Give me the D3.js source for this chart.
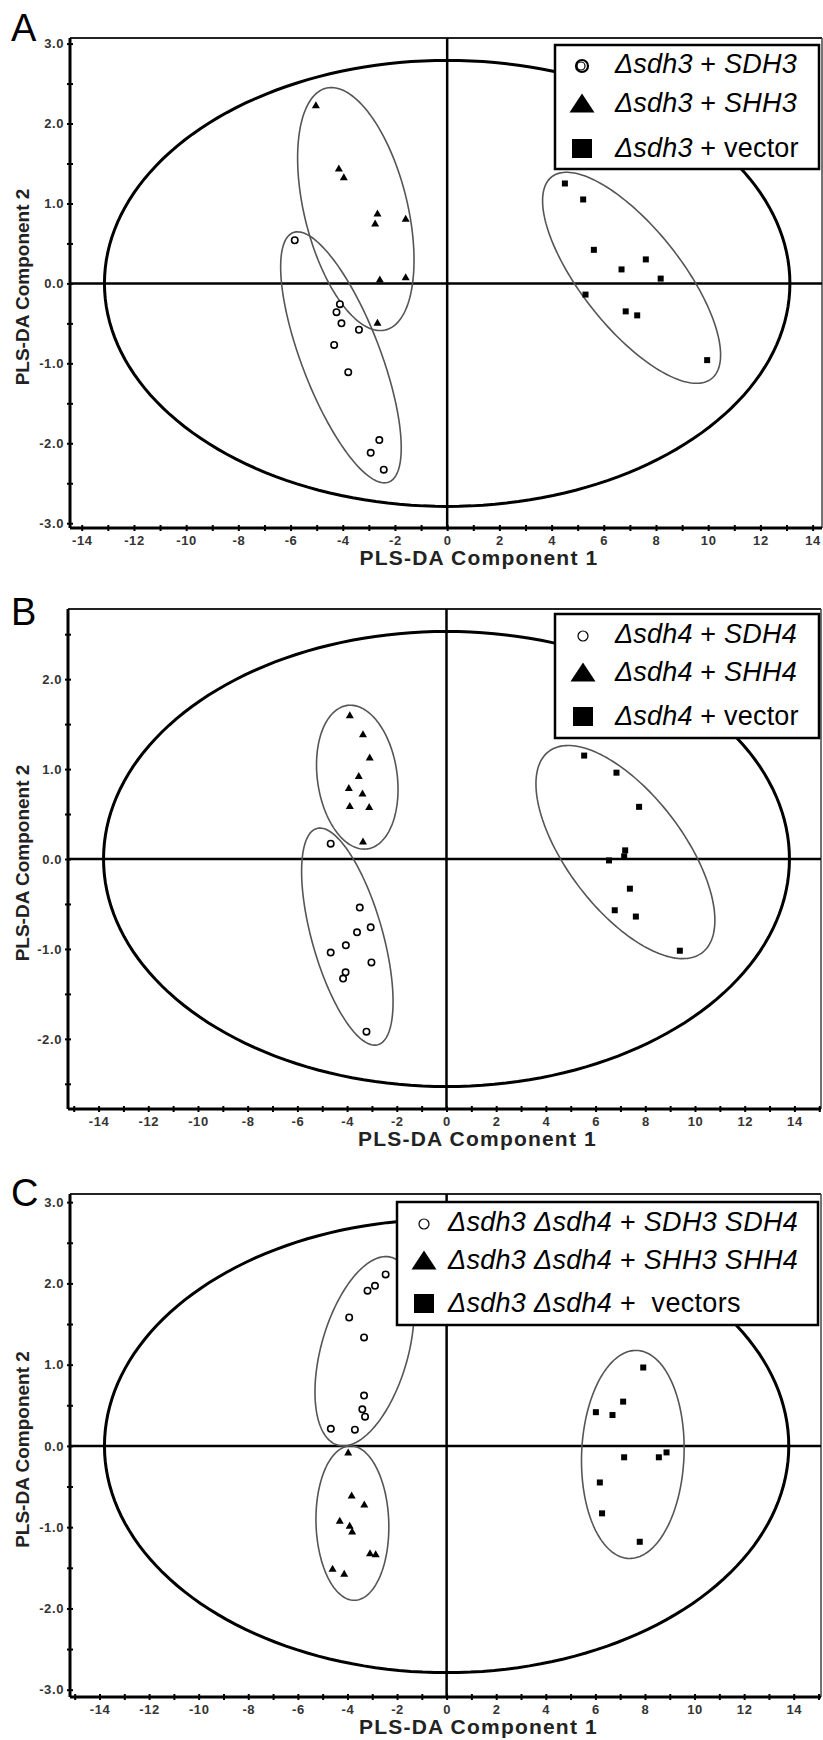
<!DOCTYPE html>
<html>
<head>
<meta charset="utf-8">
<script src="https://cdn.jsdelivr.net/npm/d3@7"></script>
<style>
  body { margin: 0; background: #fff; }
  text { font-family: "Liberation Sans", Arial, sans-serif; }
</style>
</head>
<body>
<div id="chart"></div>
<script>
// points, [component 1, component 2]
var aSDH3 = [[-5.84,0.54],[-4.11,-0.26],[-4.24,-0.36],[-4.05,-0.50],[-3.38,-0.58],[-4.33,-0.77],[-3.79,-1.11],[-2.60,-1.96],[-2.93,-2.12],[-2.43,-2.33]];
var aSHH3 = [[-5.03,2.23],[-4.15,1.44],[-3.96,1.33],[-2.67,0.875],[-2.76,0.75],[-1.59,0.81],[-2.58,0.05],[-1.59,0.08],[-2.67,-0.49]];
var aVector = [[4.51,1.25],[5.21,1.05],[5.62,0.42],[6.68,0.175],[7.61,0.30],[8.18,0.06],[5.30,-0.14],[6.84,-0.35],[7.28,-0.40],[9.96,-0.96]];

var bSDH4 = [[-4.66,0.17],[-3.49,-0.54],[-3.05,-0.76],[-3.60,-0.815],[-4.05,-0.96],[-4.66,-1.04],[-3.02,-1.15],[-4.06,-1.26],[-4.16,-1.33],[-3.22,-1.92]];
var bSHH4 = [[-3.89,1.60],[-3.36,1.39],[-3.09,1.13],[-3.53,0.925],[-3.93,0.79],[-3.38,0.73],[-3.89,0.59],[-3.11,0.58],[-3.36,0.195]];
var bVector = [[5.54,1.15],[6.84,0.96],[7.75,0.58],[7.19,0.096],[7.15,0.03],[6.54,-0.016],[7.38,-0.33],[6.77,-0.57],[7.62,-0.64],[9.39,-1.02]];

var cSDH = [[-2.46,2.11],[-2.89,1.97],[-3.19,1.91],[-3.93,1.58],[-3.33,1.335],[-3.33,0.62],[-3.40,0.45],[-3.29,0.36],[-4.67,0.21],[-3.70,0.20]];
var cSHH = [[-3.97,-0.08],[-3.83,-0.61],[-3.32,-0.72],[-4.31,-0.92],[-3.91,-0.98],[-3.81,-1.05],[-3.09,-1.32],[-2.86,-1.33],[-4.60,-1.51],[-4.13,-1.57]];
var cVector = [[7.93,0.965],[7.12,0.545],[6.02,0.415],[6.69,0.38],[7.16,-0.14],[8.56,-0.14],[8.87,-0.08],[6.18,-0.45],[6.27,-0.83],[7.79,-1.18]];

// ellipses: [centre x, centre y, half width, half height, correlation]
var aEllipses = [[0,0,13.13,2.79,0],[-4.07,-0.925,2.31,1.57,-0.72],[-3.5,0.93,2.23,1.52,-0.42],[7.065,0.07,3.41,1.32,-0.73]];
var bEllipses = [[0,0,13.8,2.53,0],[-3.99,-0.863,1.84,1.207,-0.60],[-3.59,0.91,1.64,0.80,-0.17],[7.2,0.077,3.6,1.185,-0.64]];
var cEllipses = [[0,0,13.8,2.79,0],[-3.31,1.165,2.0,1.165,0.43],[-3.8,-0.95,1.47,0.95,-0.05],[7.51,-0.105,2.07,1.28,0.06]];

// legend labels, [text, italic]
var aLegend = [[["Δsdh3",1],[" + ",0],["SDH3",1]], [["Δsdh3",1],[" + ",0],["SHH3",1]], [["Δsdh3",1],[" + vector",0]]];
var bLegend = [[["Δsdh4",1],[" + ",0],["SDH4",1]], [["Δsdh4",1],[" + ",0],["SHH4",1]], [["Δsdh4",1],[" + vector",0]]];
var cLegend = [[["Δsdh3 Δsdh4",1],[" + ",0],["SDH3 SDH4",1]], [["Δsdh3 Δsdh4",1],[" + ",0],["SHH3 SHH4",1]], [["Δsdh3 Δsdh4",1],[" +  vectors",0]]];

var aXTicks = d3.range(-14, 15, 1), bXTicks = d3.range(-15, 16, 1), cXTicks = d3.range(-15, 16, 1);
var aYTicks = d3.range(-3, 3.01, 0.5), bYTicks = d3.range(-2.5, 2.51, 0.5), cYTicks = d3.range(-3, 3.01, 0.5);

var width = 823, height = 1740;

var svg = d3.select("#chart").append("svg")
    .attr("width", width)
    .attr("height", height)
    .style("display", "block");

var panels = [
  {label: "A", labelY: 41, box: [70, 822, 38, 528], xDom: [-14.45, 14.36], yDom: [-3.06, 3.07],
   xTicks: aXTicks, yTicks: aYTicks, groups: [aSDH3, aSHH3, aVector], ellipses: aEllipses,
   legend: aLegend, leg: {x: 555, y: 45, w: 264, h: 124, sx: 27, tx: 60, rows: [28, 67, 112], fs: 27, ls: 0.2}, ring: true},
  {label: "B", labelY: 625, box: [68, 821, 609, 1109], xDom: [-15.23, 15.07], yDom: [-2.78, 2.78],
   xTicks: bXTicks, yTicks: bYTicks, groups: [bSDH4, bSHH4, bVector], ellipses: bEllipses,
   legend: bLegend, leg: {x: 555, y: 614, w: 264, h: 124, sx: 28, tx: 60, rows: [29, 67, 111], fs: 27, ls: 0.2}},
  {label: "C", labelY: 1206, box: [70, 821, 1194, 1697], xDom: [-15.19, 15.1], yDom: [-3.09, 3.1],
   xTicks: cXTicks, yTicks: cYTicks, groups: [cSDH, cSHH, cVector], ellipses: cEllipses,
   legend: cLegend, leg: {x: 397, y: 1202, w: 421, h: 123, sx: 27, tx: 51, rows: [29, 67, 110], fs: 27, ls: 0.3}}
];

function tri(w, h) {
  return "M0," + (-h * 0.55) + "L" + (w / 2) + "," + (h * 0.45) + "L" + (-w / 2) + "," + (h * 0.45) + "Z";
}

panels.forEach(function(p) {
  var g = svg.append("g");
  var x = d3.scaleLinear().domain(p.xDom).range([p.box[0], p.box[1]]);
  var y = d3.scaleLinear().domain(p.yDom).range([p.box[3], p.box[2]]);

  // frame
  g.append("line").attr("x1", p.box[0]).attr("x2", p.box[1]).attr("y1", p.box[2]).attr("y2", p.box[2])
      .style("stroke", "#222").style("stroke-width", 2);
  g.append("line").attr("x1", p.box[1]).attr("x2", p.box[1]).attr("y1", p.box[2]).attr("y2", p.box[3])
      .style("stroke", "#444").style("stroke-width", 1.5);

  // zero lines
  g.append("line").attr("x1", p.box[0]).attr("x2", p.box[1]).attr("y1", y(0)).attr("y2", y(0))
      .style("stroke", "#000").style("stroke-width", 2.5);
  g.append("line").attr("x1", x(0)).attr("x2", x(0)).attr("y1", p.box[2]).attr("y2", p.box[3])
      .style("stroke", "#000").style("stroke-width", 2.5);

  // ellipses
  var line = d3.line().curve(d3.curveLinearClosed);
  p.ellipses.forEach(function(e, i) {
    var phi = Math.asin(e[4]);
    var pts = d3.range(0, 2 * Math.PI, Math.PI / 90).map(function(t) {
      return [x(e[0] + e[2] * Math.cos(t)), y(e[1] + e[3] * Math.sin(t + phi))];
    });
    g.append("path").attr("d", line(pts))
        .style("fill", "none")
        .style("stroke", i === 0 ? "#000" : "#555")
        .style("stroke-width", i === 0 ? 3 : 1.6);
  });

  // points
  g.selectAll(".c").data(p.groups[0]).enter().append("circle")
      .attr("cx", function(d) { return x(d[0]); })
      .attr("cy", function(d) { return y(d[1]); })
      .attr("r", 3.2)
      .style("fill", "#fff").style("stroke", "#000").style("stroke-width", 1.6);
  g.selectAll(".t").data(p.groups[1]).enter().append("path")
      .attr("d", tri(8, 7))
      .attr("transform", function(d) { return "translate(" + x(d[0]) + "," + y(d[1]) + ")"; })
      .style("fill", "#000");
  g.selectAll(".s").data(p.groups[2]).enter().append("rect")
      .attr("x", function(d) { return x(d[0]) - 3; })
      .attr("y", function(d) { return y(d[1]) - 3; })
      .attr("width", 6).attr("height", 6)
      .style("fill", "#000");

  // axes
  var xAxis = d3.axisBottom(x).tickValues(p.xTicks).tickSize(4).tickPadding(4)
      .tickFormat(function(d) { return d % 2 === 0 ? String(d) : ""; });
  var yAxis = d3.axisLeft(y).tickValues(p.yTicks).tickSize(4).tickPadding(2)
      .tickFormat(function(d) { return Number.isInteger(d) ? d.toFixed(1) : ""; });

  var gx = g.append("g").attr("transform", "translate(0," + p.box[3] + ")").call(xAxis);
  var gy = g.append("g").attr("transform", "translate(" + p.box[0] + ",0)").call(yAxis);
  [gx, gy].forEach(function(a) {
    a.select(".domain").remove();
    a.selectAll("line").style("stroke", "#000").style("stroke-width", 2);
    a.selectAll("text").style("font-size", "13px").style("font-weight", "bold")
        .style("fill", "#333").style("letter-spacing", "0.6px");
  });
  gx.selectAll(".tick line").attr("y1", -3).attr("y2", 3);
  gy.selectAll(".tick line").attr("x1", -3).attr("x2", 3);

  g.append("line").attr("x1", p.box[0]).attr("x2", p.box[1]).attr("y1", p.box[3]).attr("y2", p.box[3])
      .style("stroke", "#000").style("stroke-width", 3);
  g.append("line").attr("x1", p.box[0]).attr("x2", p.box[0]).attr("y1", p.box[2]).attr("y2", p.box[3])
      .style("stroke", "#000").style("stroke-width", 3);

  // axis titles
  g.append("text")
      .attr("x", (p.box[0] + p.box[1]) / 2 + 33)
      .attr("y", p.box[3] + 37)
      .attr("text-anchor", "middle")
      .style("font-size", "21px").style("font-weight", "bold").style("fill", "#222")
      .style("letter-spacing", "1.2px")
      .text("PLS-DA Component 1");
  g.append("text")
      .attr("transform", "translate(29," + ((p.box[2] + p.box[3]) / 2 + 4) + ") rotate(-90)")
      .attr("text-anchor", "middle")
      .style("font-size", "19px").style("font-weight", "bold").style("fill", "#222")
      .text("PLS-DA Component 2");

  // panel letter
  g.append("text").attr("x", 11).attr("y", p.labelY)
      .style("font-size", "38px").style("fill", "#000")
      .text(p.label);

  // legend
  var L = p.leg;
  var lg = g.append("g").attr("transform", "translate(" + L.x + "," + L.y + ")");
  lg.append("rect").attr("width", L.w).attr("height", L.h)
      .style("fill", "#fff").style("stroke", "#000").style("stroke-width", 2.5);

  var cy0 = L.rows[0] - 7;
  if (p.ring) {
    lg.append("circle").attr("cx", L.sx).attr("cy", cy0).attr("r", 6)
        .style("fill", "none").style("stroke", "#000").style("stroke-width", 2.2);
    lg.append("circle").attr("cx", L.sx - 1).attr("cy", cy0).attr("r", 4)
        .style("fill", "none").style("stroke", "#000").style("stroke-width", 1.2);
  } else {
    lg.append("circle").attr("cx", L.sx).attr("cy", cy0).attr("r", 5)
        .style("fill", "none").style("stroke", "#000").style("stroke-width", 1.2);
  }
  lg.append("path").attr("d", tri(25, 19))
      .attr("transform", "translate(" + L.sx + "," + (L.rows[1] - 8) + ")")
      .style("fill", "#000");
  lg.append("rect").attr("x", L.sx - 10).attr("y", L.rows[2] - 18).attr("width", 20).attr("height", 19)
      .style("fill", "#000");

  p.legend.forEach(function(segs, i) {
    var t = lg.append("text")
        .attr("x", L.tx)
        .attr("y", L.rows[i])
        .style("font-size", L.fs + "px").style("fill", "#000")
        .style("letter-spacing", L.ls + "px")
        .style("white-space", "pre");
    segs.forEach(function(s) {
      t.append("tspan").style("font-style", s[1] ? "italic" : "normal").text(s[0]);
    });
  });
});
</script>
</body>
</html>
